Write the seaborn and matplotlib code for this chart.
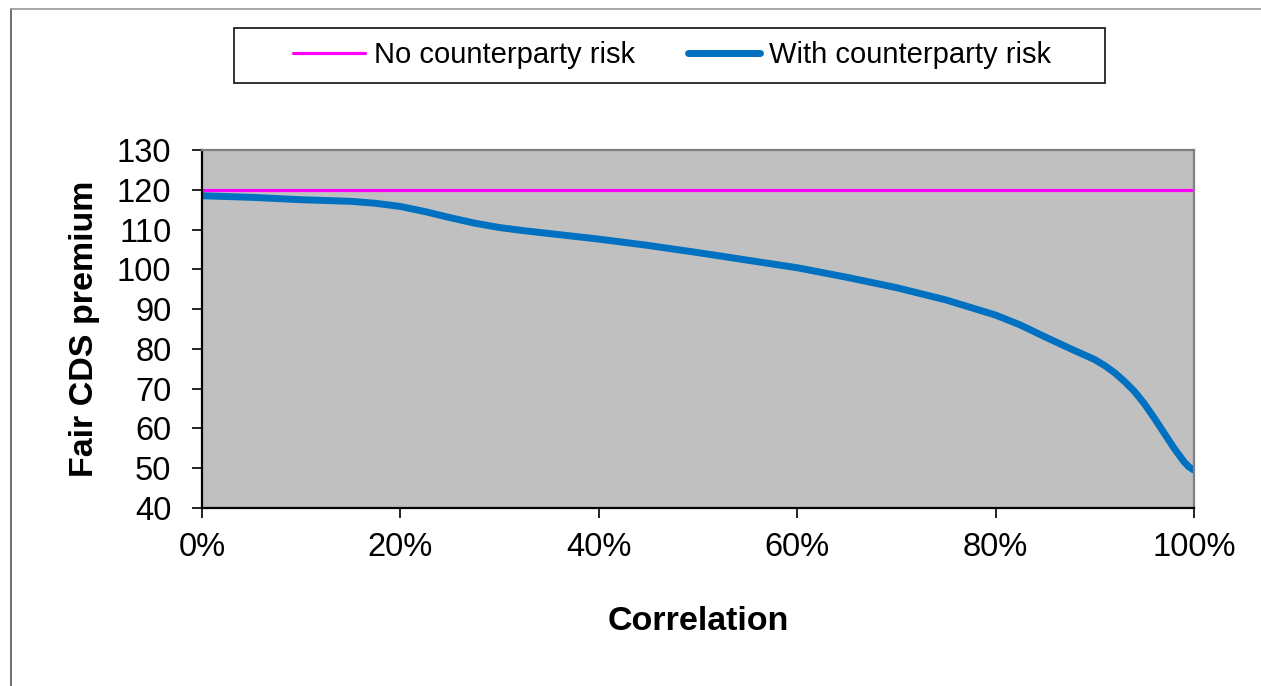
import matplotlib
matplotlib.use("Agg")
import matplotlib.pyplot as plt
from matplotlib.lines import Line2D
from matplotlib.patches import Rectangle
import seaborn as sns
import pandas as pd

# Correlation (%) between the protection seller and the reference entity
correlation = [0, 5, 10, 15, 17.5, 20, 22.5, 25, 27.5, 30, 32.5, 35, 37.5, 40,
               45, 50, 55, 60, 65, 70, 75, 80, 82.5, 85, 87.5, 90, 91, 92, 93,
               94, 95, 96, 97, 98, 99, 99.5, 100]
# Fair CDS premium (bp) when the protection seller can default
with_cp_risk = [118.5, 118.1, 117.5, 117.1, 116.6, 115.8, 114.5, 113.0, 111.6,
                110.5, 109.7, 109.0, 108.3, 107.6, 106.0, 104.2, 102.3, 100.4,
                98.0, 95.4, 92.3, 88.5, 86.0, 83.0, 80.1, 77.3, 75.8, 74.0, 71.8,
                69.3, 66.2, 62.6, 58.8, 55.0, 51.6, 50.3, 49.5]
# Fair CDS premium (bp) with a default-free protection seller
no_cp_risk = [120.0] * len(correlation)

x_ticks = [0, 20, 40, 60, 80, 100]
x_tick_labels = ["0%", "20%", "40%", "60%", "80%", "100%"]
y_ticks = list(range(40, 131, 10))

df = pd.DataFrame({
    "Correlation": correlation,
    "No counterparty risk": no_cp_risk,
    "With counterparty risk": with_cp_risk,
})

sns.set_style("white")
plt.rcParams["font.family"] = ["Liberation Sans", "DejaVu Sans"]
plt.rcParams["text.color"] = "black"
plt.rcParams["axes.labelcolor"] = "black"
plt.rcParams["xtick.color"] = "black"
plt.rcParams["ytick.color"] = "black"

fig = plt.figure(figsize=(12.61, 6.86), dpi=100)
ax = fig.add_axes([202 / 1261, 1 - 508 / 686, (1194 - 202) / 1261, (508 - 150) / 686])
ax.set_facecolor("#C0C0C0")

sns.lineplot(data=df, x="Correlation", y="No counterparty risk", ax=ax,
             color="#FF00FF", linewidth=2.3, label="No counterparty risk")
sns.lineplot(data=df, x="Correlation", y="With counterparty risk", ax=ax,
             color="#0070C0", linewidth=5.0, label="With counterparty risk",
             solid_joinstyle="round", solid_capstyle="round")

ax.set_xlim(0, 100)
ax.set_ylim(40, 130)
ax.set_xticks(x_ticks)
ax.set_xticklabels(x_tick_labels)
ax.set_yticks(y_ticks)
ax.tick_params(axis="both", direction="out", length=7, width=1.2, color="black",
               labelsize=23.5, labelcolor="black", left=True, bottom=True)
ax.tick_params(axis="y", pad=15)
ax.tick_params(axis="x", pad=10)

for side in ("left", "bottom"):
    ax.spines[side].set_color("black")
    ax.spines[side].set_linewidth(1.6)
for side in ("top", "right"):
    ax.spines[side].set_color("#808080")
    ax.spines[side].set_linewidth(1.6)

ax.set_xlabel("Correlation", fontsize=24.5, fontweight="bold", labelpad=31,
              color="black")
ax.set_ylabel("Fair CDS premium", fontsize=24.5, fontweight="bold", labelpad=12,
              color="black")

# legend without its own frame; the frame is drawn as a figure rectangle
ax.get_legend().remove()
handles, labels = ax.get_legend_handles_labels()
fig.legend(handles, labels, loc="center", ncol=2, frameon=False,
           bbox_to_anchor=(672 / 1261, 1 - 55 / 686), fontsize=21,
           labelcolor="black", handlelength=2.45, handletextpad=0.3,
           columnspacing=1.85)
fig.patches.append(Rectangle((234 / 1261, 1 - 83 / 686), (1105 - 234) / 1261,
                             (83 - 28) / 686, transform=fig.transFigure,
                             fill=False, edgecolor="#222222", linewidth=1.3))

# chart-area border along the top and left
fig.lines.append(Line2D([11 / 1261, 11 / 1261], [0, 1 - 9 / 686],
                        transform=fig.transFigure, color="#555555", linewidth=1.2))
fig.lines.append(Line2D([11 / 1261, 1], [1 - 9 / 686, 1 - 9 / 686],
                        transform=fig.transFigure, color="#999999", linewidth=1.2))

fig.savefig("out.png", dpi=100, facecolor="white")
